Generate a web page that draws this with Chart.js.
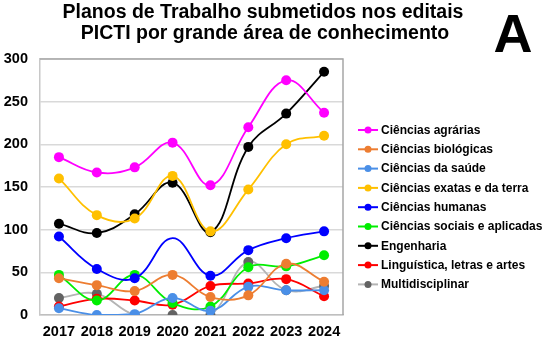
<!DOCTYPE html>
<html>
<head>
<meta charset="utf-8">
<script src="https://cdn.jsdelivr.net/npm/chart.js@4"></script>
<style>
	body { margin: 0; background: #fff; }
	#wrap { width: 550px; height: 347px; position: relative; }
</style>
</head>
<body>
<div id="wrap"><canvas id="myCanvas"></canvas></div>
<script>
const years = ["2017", "2018", "2019", "2020", "2021", "2022", "2023", "2024"];

const agrarias = [185, 167, 173, 202, 152, 220, 275, 237];
const biologicas = [43, 35, 28, 47, 21, 23, 60, 39];
const saude = [8, 0, 1, 20, 5, 33, 29, 29];
const exatas = [160, 117, 113, 163, 98, 147, 200, 210];
const humanas = [92, 54, 43, 90, 46, 76, 90, 98];
const sociais = [47, 17, 47, 14, 10, 56, 57, 70];
const engenharia = [107, 96, 118, 155, 97, 197, 236, 285];
const linguistica = [10, 19, 17, 12, 34, 37, 42, 22];
const multi = [20, 25, 0, 0, 0, 62, 29, 34];

const yTicks = [0, 50, 100, 150, 200, 250, 300];

const FONT = "Arial, 'Liberation Sans', sans-serif";

function serie(label, data, lineColor, dotColor, radius) {
	return {
		label: label,
		data: data,
		borderColor: lineColor,
		backgroundColor: dotColor,
		pointBackgroundColor: dotColor,
		pointBorderColor: dotColor,
		pointBorderWidth: 0,
		pointRadius: radius || 5,
		borderWidth: 1.8,
		tension: 0.4,
	};
}

const datasets = [
	serie("Ciências agrárias", agrarias, "#FF00FF", "#FF00FF"),
	serie("Ciências biológicas", biologicas, "#ED7D31", "#ED7D31"),
	serie("Ciências da saúde", saude, "#4A8FE7", "#4A8FE7"),
	serie("Ciências exatas e da terra", exatas, "#FFC000", "#FFC000"),
	serie("Ciências humanas", humanas, "#0000FF", "#0000FF", [5, 5, 5, 0, 5, 5, 5, 5]),
	serie("Ciências sociais e aplicadas", sociais, "#00EE00", "#00EE00"),
	serie("Engenharia", engenharia, "#000000", "#000000"),
	serie("Linguística, letras e artes", linguistica, "#FF0000", "#FF0000"),
	serie("Multidisciplinar", multi, "#B4B4B4", "#636363"),
];

// title, big letter, plot frame and legend (line + dot like the spreadsheet)
const decorPlugin = {
	id: "decor",
	beforeDatasetsDraw: function (chart) {
		const a = chart.chartArea;
		const g = chart.ctx;
		g.save();
		g.strokeStyle = "#A6A6A6";
		g.lineWidth = 1.5;
		g.beginPath();
		g.moveTo(a.left, a.top);
		g.lineTo(a.right, a.top);
		g.lineTo(a.right, a.bottom);
		g.stroke();
		g.restore();
	},
	afterDraw: function (chart) {
		const g = chart.ctx;
		g.save();
		g.fillStyle = "#000";
		g.textAlign = "center";
		g.textBaseline = "alphabetic";
		g.font = "bold 19.5px " + FONT;
		g.fillText("Planos de Trabalho submetidos nos editais", 263, 17.5);
		g.fillText("PICTI por grande área de conhecimento", 265, 39);
		g.font = "bold 54px " + FONT;
		g.fillText("A", 513, 52);

		g.textAlign = "left";
		g.textBaseline = "middle";
		g.font = "bold 12px " + FONT;
		chart.data.datasets.forEach(function (d, i) {
			const y = 130 + i * 19.3;
			g.strokeStyle = d.borderColor;
			g.lineWidth = 2;
			g.beginPath();
			g.moveTo(358, y);
			g.lineTo(378, y);
			g.stroke();
			g.fillStyle = d.pointBackgroundColor;
			g.beginPath();
			g.arc(368, y, 3.5, 0, Math.PI * 2);
			g.fill();
			g.fillStyle = "#000";
			g.fillText(d.label, 381, y + 0.5);
		});
		g.restore();
	},
};

const ctx = document.getElementById("myCanvas").getContext("2d");
const myChart = new Chart(ctx, {
	type: "line",
	data: {
		labels: years,
		datasets: datasets,
	},
	plugins: [decorPlugin],
	options: {
		responsive: true,
		maintainAspectRatio: false,
		animation: false,
		layout: {
			padding: { top: 59, left: 0, right: 207, bottom: 0 },
		},
		plugins: {
			title: { display: false },
			legend: { display: false },
			tooltip: { enabled: false },
		},
		scales: {
			x: {
				offset: true,
				afterFit: function (axis) {
					axis.height = 32;
				},
				grid: { display: false, drawTicks: false },
				border: { color: "#BFBFBF", width: 1.5 },
				ticks: {
					color: "#000",
					font: { family: FONT, size: 14.5, weight: "bold" },
					padding: 8,
					maxRotation: 0,
				},
			},
			y: {
				min: 0,
				max: 300,
				afterFit: function (axis) {
					axis.width = 40;
				},
				afterBuildTicks: function (axis) {
					axis.ticks = yTicks.map(function (v) {
						return { value: v };
					});
				},
				grid: { color: "#D9D9D9", lineWidth: 1.5, drawTicks: false },
				border: { color: "#C8C8C8", width: 1.5 },
				ticks: {
					color: "#000",
					font: { family: FONT, size: 14.5, weight: "bold" },
					padding: 12,
				},
			},
		},
	},
});
</script>
</body>
</html>
